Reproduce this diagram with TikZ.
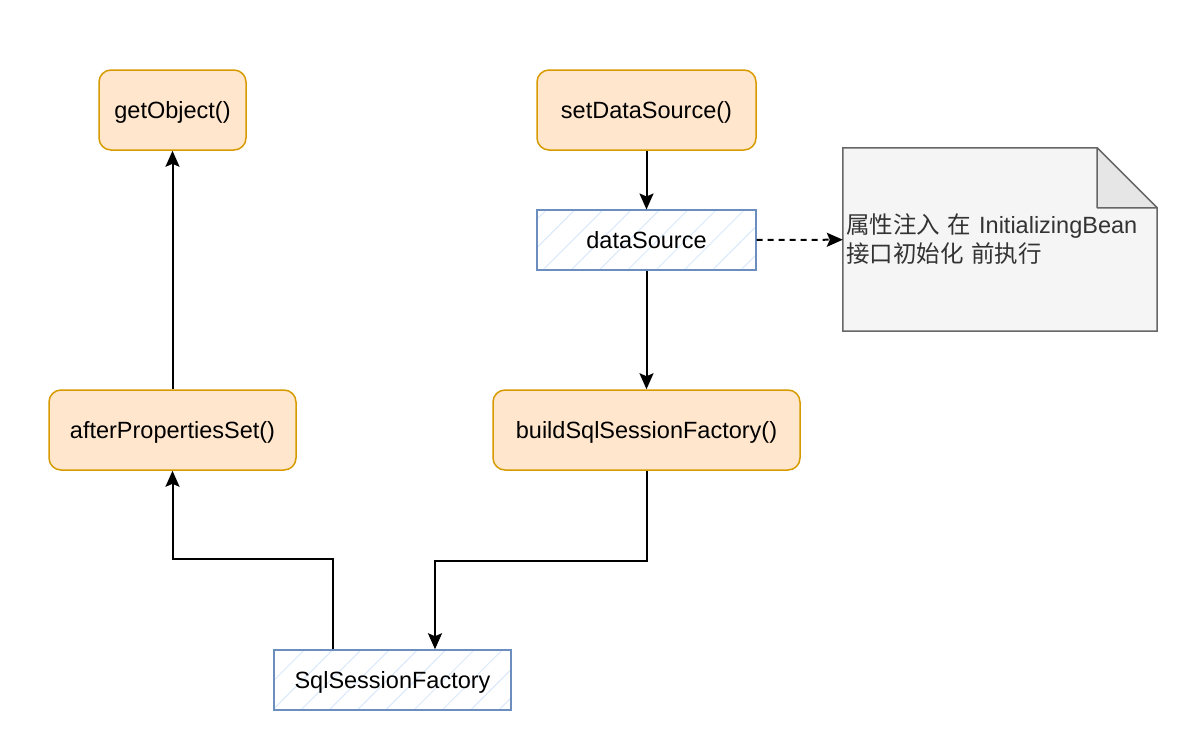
\documentclass[tikz,border=0pt]{standalone}
\usepackage{fontspec}
\setmainfont{Liberation Sans}
\newfontfamily\cjk{Noto Sans CJK SC}
\usetikzlibrary{arrows.meta,patterns.meta,backgrounds}
\definecolor{orangefill}{HTML}{FFE6CC}
\definecolor{orangeline}{HTML}{D79B00}
\definecolor{blueline}{HTML}{6C8EBF}
\definecolor{hatchblue}{HTML}{DAE8FC}
\definecolor{notefill}{HTML}{F5F5F5}
\definecolor{foldfill}{HTML}{E6E6E6}
\definecolor{noteline}{HTML}{666666}
\definecolor{notetext}{HTML}{333333}

\begin{document}
\begin{tikzpicture}[x=1pt,y=-1pt,
  method/.style={draw=orangeline,fill=orangefill,rounded corners=12pt,line width=1.5pt,
    minimum height=80pt,text height=16pt,text depth=0pt,font=\fontsize{23.5}{28}\selectfont},
  field/.style={draw=blueline,line width=1.5pt,minimum height=60pt,text height=16pt,text depth=0pt,
    pattern={Lines[angle=45,distance=20pt,line width=1pt]},pattern color=hatchblue,
    font=\fontsize{23.5}{28}\selectfont},
  memo/.style={minimum width=314pt,minimum height=183pt,text width=308pt,inner sep=3pt,
    align=left,text=notetext,font=\fontsize{23.5}{29}\selectfont},
  link/.style={-{Stealth[length=16pt,width=14pt,inset=3pt]},line width=2pt}]
\useasboundingbox (0,0) rectangle (1185,728);

% methods and fields
\node[method,minimum width=147pt] (getobj) at (172.5,110) {getObject()};
\node[method,minimum width=219pt] (setds) at (646.5,110) {setDataSource()};
\node[field,minimum width=219pt] (ds) at (646.5,240) {dataSource};
\node[method,minimum width=247pt] (aps) at (172.5,430) {afterPropertiesSet()};
\node[method,minimum width=307pt] (build) at (646.5,430) {buildSqlSessionFactory()};
\node[field,minimum width=237pt] (ssf) at (392.5,680) {SqlSessionFactory};

% note
\node[memo] (note) at (1000,239.5) {{\cjk 属性注入 在} InitializingBean\\{\cjk 接口初始化 前执行}};
\begin{scope}[on background layer]
\draw[noteline,fill=notefill,line width=1.5pt] (note.north west) -- ([xshift=-60pt]note.north east)
  -- ([yshift=-60pt]note.north east) -- (note.south east) -- (note.south west) -- cycle;
\draw[noteline,fill=foldfill,line width=1.5pt,line join=round] ([xshift=-60pt]note.north east)
  -- ([xshift=-60pt,yshift=-60pt]note.north east) -- ([yshift=-60pt]note.north east) -- cycle;
\end{scope}

% connectors
\draw[link] (setds) -- (ds);
\draw[link] (ds) -- (build);
\draw[link,dash pattern=on 6pt off 5pt] (ds) -- (note);
\draw[link] (build.south) -- ++(0,90) -| ([xshift=42.5pt]ssf.north);
\draw[link] ([xshift=-59.5pt]ssf.north) -- ++(0,-90) -| (aps.south);
\draw[link] (aps) -- (getobj);
\end{tikzpicture}
\end{document}
